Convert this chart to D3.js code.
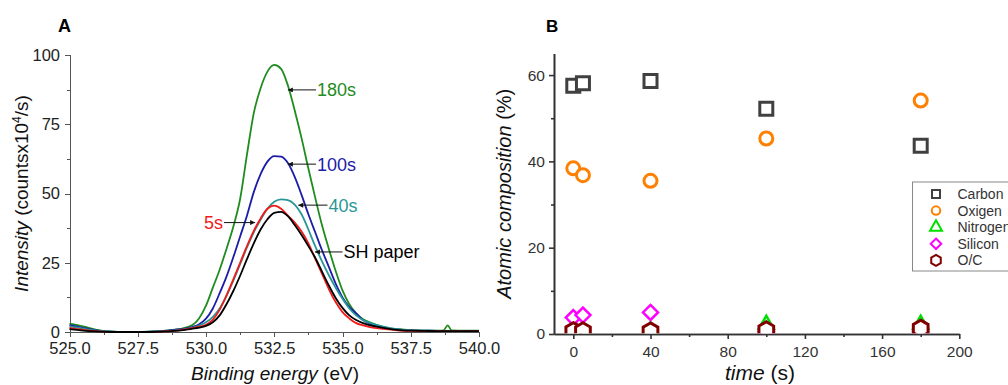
<!DOCTYPE html>
<html>
<head>
<meta charset="utf-8">
<title>O1s spectra and atomic composition</title>
<style>
  body { margin: 0; background: #fff; }
  svg { display: block; font-family: "Liberation Sans", Arial, sans-serif; }
  .axA path, .axA line { stroke: #555; stroke-width: 1; shape-rendering: crispEdges; }
  .axA text { fill: #222; font-size: 16.5px; }
  .axB path, .axB line { stroke: #333; stroke-width: 1.6; }
  .axB text { fill: #333; font-size: 15.5px; }
  .spec { fill: none; stroke-width: 1.8; stroke-linejoin: round; }
</style>
</head>
<body>
<script src="https://d3js.org/d3.v7.min.js"></script>
<script>
// ---- panel A : O1s spectra (binding energy, intensity in counts x10^4/s)
var energy = [525, 525.5, 526, 526.5, 527, 527.5, 528, 528.5, 529, 529.5, 529.75,
  530, 530.25, 530.5, 530.75, 531, 531.25, 531.5, 531.75, 532, 532.25, 532.5, 532.75,
  533, 533.25, 533.5, 533.75, 534, 534.25, 534.5, 534.75, 535, 535.25, 535.5, 535.75,
  536, 536.5, 537, 537.5, 538, 538.5, 538.7, 538.85, 539, 539.5, 540];

var s180 = [3.0, 2.0, 0.8, 0.2, 0, 0, 0.2, 0.5, 1.0, 2.5, 5,
  9.5, 16, 22.5, 30, 38, 48, 64, 79, 88, 94, 96.4, 95,
  89, 80, 70, 59, 48.5, 38.5, 30, 22, 15, 10, 6.7, 4.6,
  3.5, 1.8, 1.0, 0.7, 0.5, 0.5, 0.6, 2.4, 0.6, 0.5, 0.5];
var s100 = [2.5, 1.5, 0.6, 0.1, 0, 0, 0.1, 0.4, 0.9, 1.8, 2.8,
  4.8, 8.5, 14, 20, 27, 34.5, 42, 50.5, 57, 61.5, 63.5, 63.3,
  61, 56, 49.5, 42.5, 36, 29.5, 23.5, 17.5, 12.5, 9, 6.7, 4.3,
  3, 1.6, 0.9, 0.6, 0.5, 0.4, 0.4, 0.4, 0.4, 0.4, 0.4];
var s40 = [2.0, 1.2, 0.5, 0.1, 0, 0, 0, 0.3, 0.7, 1.5, 2.3,
  3.5, 5.5, 8.5, 13, 18.5, 24.5, 30.5, 36, 40.5, 44.5, 47, 47.9,
  47.6, 46, 42.5, 37, 31, 25.5, 20.5, 16, 12, 8.5, 6, 4.3,
  3.3, 1.9, 1.0, 0.6, 0.5, 0.4, 0.4, 0.4, 0.4, 0.4, 0.4];
var s5 = [1.5, 0.8, 0.3, 0, 0, 0, 0, 0.2, 0.6, 1.4, 1.9,
  2.6, 4.5, 8, 13.2, 19, 25, 31, 36.5, 41, 44.5, 45.6, 44.5,
  42, 39.5, 36.3, 32, 26.5, 21, 15.5, 10.8, 7.2, 4.9, 3.2, 2.4,
  1.8, 1.1, 0.6, 0.4, 0.3, 0.3, 0.3, 0.3, 0.3, 0.3, 0.3];
var sSH = [1.0, 0.5, 0.2, 0, 0, 0, 0, 0.2, 0.5, 1.2, 1.6,
  2.2, 3.5, 6, 10, 14.8, 20.3, 26.3, 32, 37, 40.7, 43, 43.4,
  41.8, 38.6, 35, 31, 26.8, 21.8, 16.8, 12.3, 8.7, 6, 4.3, 3.2,
  2.5, 1.5, 0.8, 0.5, 0.4, 0.3, 0.3, 0.3, 0.3, 0.3, 0.3];

var specNames = ["180s", "100s", "40s", "5s", "SH paper"];
var specColors = ["#1f8c1f", "#1c1ca8", "#2a9797", "#f21a1a", "#000000"];
var xTicksA = [525, 527.5, 530, 532.5, 535, 537.5, 540];
var yTicksA = [0, 25, 50, 75, 100];

// ---- panel B : atomic composition vs time
var times = [0, 5, 40, 100, 180];
var carbon = [57.5, 58.1, 58.6, 52.2, 43.6];
var oxygen = [38.4, 36.8, 35.5, 45.3, 54.1];
var nitrogen = [0.6, 0.6, 0.7, 2.2, 2.2];
var silicon = [3.8, 4.4, 5.0, 0.6, 0.6];
var oc = [0.67, 0.63, 0.61, 0.87, 1.24];
var elemNames = ["Carbon", "Oxigen", "Nitrogen", "Silicon", "O/C"];
var elemColors = ["#404040", "#ff8000", "#00e000", "#ff00ff", "#800000"];
var xTicksB = [0, 40, 80, 120, 160, 200];
var yTicksB = [0, 20, 40, 60];

var W = 1008, H = 385;
var svg = d3.select("body").append("svg").attr("width", W).attr("height", H);

// ================= panel A =================
var xA = d3.scaleLinear().domain([525, 540]).range([69.5, 479]);
var yA = d3.scaleLinear().domain([0, 100]).range([332, 55]);

svg.append("g").attr("class", "axA")
  .attr("transform", "translate(0," + yA(0) + ")")
  .call(d3.axisBottom(xA).tickValues(d3.range(526.25, 540, 2.5)).tickSize(3).tickFormat(""));
svg.append("g").attr("class", "axA")
  .attr("transform", "translate(0," + yA(0) + ")")
  .call(d3.axisBottom(xA).tickValues(xTicksA).tickSize(5).tickPadding(5).tickFormat(d3.format(".1f")));
svg.append("g").attr("class", "axA")
  .attr("transform", "translate(" + xA(525) + ",0)")
  .call(d3.axisLeft(yA).tickValues(d3.range(12.5, 100, 25)).tickSize(3).tickFormat(""));
svg.append("g").attr("class", "axA")
  .attr("transform", "translate(" + xA(525) + ",0)")
  .call(d3.axisLeft(yA).tickValues(yTicksA).tickSize(5).tickPadding(4.5));

var series = [s180, s100, s40, s5, sSH];
var line = d3.line()
  .x(function(d, i){ return xA(energy[i]); })
  .y(function(d){ return yA(d); })
  .curve(d3.curveMonotoneX);

svg.append("g").selectAll("path")
  .data(series)
  .enter().append("path")
  .attr("class", "spec")
  .attr("d", line)
  .attr("stroke", function(d, i){ return specColors[i]; });

// labels with arrows: tip on the curve (energy, intensity), tail energy
var notes = [
  {i: 0, tip: [533.0, 87.4], tail: 534.03},
  {i: 1, tip: [533.0, 60.6], tail: 534.03},
  {i: 2, tip: [533.38, 45.8], tail: 534.45},
  {i: 3, tip: [531.8, 39.5], tail: 530.66},
  {i: 4, tip: [533.99, 28.9], tail: 535.0}
];
svg.append("defs").append("marker")
  .attr("id", "arr").attr("viewBox", "0 0 10 10")
  .attr("refX", 10).attr("refY", 5)
  .attr("markerWidth", 7).attr("markerHeight", 5)
  .attr("markerUnits", "userSpaceOnUse")
  .attr("orient", "auto")
  .append("path").attr("d", "M0,0L10,5L0,10Z").attr("fill", "#111");

notes.forEach(function(n){
  var ty = yA(n.tip[1]);
  svg.append("line")
    .attr("x1", xA(n.tail)).attr("y1", ty)
    .attr("x2", xA(n.tip[0])).attr("y2", ty)
    .attr("stroke", "#111").attr("stroke-width", 1)
    .attr("marker-end", "url(#arr)");
  var left = n.tail < n.tip[0];
  svg.append("text")
    .attr("x", xA(n.tail) + (left ? -1 : 1))
    .attr("y", ty + 6.5)
    .attr("text-anchor", left ? "end" : "start")
    .style("font-size", "18px")
    .style("fill", specColors[n.i])
    .text(specNames[n.i]);
});

// titles A
var tA = svg.append("text")
  .attr("transform", "translate(28," + ((yA(0) + yA(100)) / 2) + ") rotate(-90)")
  .attr("text-anchor", "middle")
  .style("font-size", "19px").style("fill", "#111");
tA.append("tspan").style("font-style", "italic").text("Intensity");
tA.append("tspan").text(" (countsx10");
tA.append("tspan").attr("dy", -7).style("font-size", "12px").text("4");
tA.append("tspan").attr("dy", 7).text("/s)");

var bA = svg.append("text")
  .attr("x", 275).attr("y", 379.5)
  .attr("text-anchor", "middle")
  .style("font-size", "19px").style("fill", "#111");
bA.append("tspan").style("font-style", "italic").text("Binding energy");
bA.append("tspan").text(" (eV)");

svg.append("text").attr("x", 58).attr("y", 31.5)
  .style("font-size", "18px").style("font-weight", "bold").text("A");

// ================= panel B =================
var xB = d3.scaleLinear().domain([-10, 200]).range([554, 959.3]);
var yB = d3.scaleLinear().domain([0, 65]).range([334, 53.5]);

svg.append("g").attr("class", "axB")
  .attr("transform", "translate(0," + yB(0) + ")")
  .call(d3.axisBottom(xB).tickValues(d3.range(20, 200, 40)).tickSize(3).tickSizeOuter(0).tickFormat(""));
svg.append("g").attr("class", "axB")
  .attr("transform", "translate(0," + yB(0) + ")")
  .call(d3.axisBottom(xB).tickValues(xTicksB).tickSize(5).tickSizeOuter(0).tickPadding(7));
svg.append("g").attr("class", "axB")
  .attr("transform", "translate(" + xB(-10) + ",0)")
  .call(d3.axisLeft(yB).tickValues([10, 30, 50]).tickSize(3).tickSizeOuter(0).tickFormat(""));
svg.append("g").attr("class", "axB")
  .attr("transform", "translate(" + xB(-10) + ",0)")
  .call(d3.axisLeft(yB).tickValues(yTicksB).tickSize(5).tickSizeOuter(0).tickPadding(4));

svg.append("clipPath").attr("id", "clipB")
  .append("rect").attr("x", xB(-10)).attr("y", 0)
  .attr("width", W - xB(-10)).attr("height", yB(0) - 0.8);

// symbol outlines centred on 0,0; s = nominal size
function shape(k, s){
  var h = s / 2, i, a, pts = [];
  if (k === 0) return "M" + (-h) + "," + (-h) + "H" + h + "V" + h + "H" + (-h) + "Z";
  if (k === 1) return "M" + h + ",0A" + h + "," + h + " 0 1,1 " + (-h) + ",0A" + h + "," + h + " 0 1,1 " + h + ",0Z";
  if (k === 2) {
    var th = s * Math.sqrt(3) / 2;
    return "M0," + (-th * 2 / 3) + "L" + h + "," + (th / 3) + "L" + (-h) + "," + (th / 3) + "Z";
  }
  if (k === 3) return "M0," + (-h) + "L" + h + ",0L0," + h + "L" + (-h) + ",0Z";
  for (i = 0; i < 6; i++) {
    a = Math.PI / 3 * i - Math.PI / 2;
    pts.push([h * Math.cos(a), h * Math.sin(a)]);
  }
  return "M" + pts.join("L") + "Z";
}

var elems = [carbon, oxygen, nitrogen, silicon, oc];
var bigSize = [13, 13, 15, 15, 17];
var bigStroke = [3, 3, 2.5, 2.5, 3];

var gB = svg.append("g").attr("clip-path", "url(#clipB)");
elems.forEach(function(vals, k){
  gB.selectAll(null)
    .data(vals)
    .enter().append("path")
    .attr("transform", function(d, i){ return "translate(" + xB(times[i]) + "," + yB(d) + ")"; })
    .attr("d", shape(k, bigSize[k]))
    .attr("fill", "#fff")
    .attr("stroke", elemColors[k])
    .attr("stroke-width", bigStroke[k])
    .attr("stroke-linejoin", "miter");
});

// legend
var lg = svg.append("g").attr("transform", "translate(912.5,182)");
lg.append("rect").attr("width", 110).attr("height", 89)
  .attr("fill", "#fff").attr("stroke", "#888").attr("stroke-width", 1);
var smallSize = [8, 8.5, 12, 10.5, 11];
elemNames.forEach(function(name, k){
  var ry = 12 + k * 16.6;
  lg.append("path")
    .attr("transform", "translate(23.5," + ry + ")")
    .attr("d", shape(k, smallSize[k]))
    .attr("fill", "#fff")
    .attr("stroke", elemColors[k])
    .attr("stroke-width", 2);
  lg.append("text").attr("x", 45).attr("y", ry + 5)
    .style("font-size", "14px").style("fill", "#333")
    .text(name);
});

// titles B
var tB = svg.append("text")
  .attr("transform", "translate(511," + ((yB(0) + yB(65)) / 2) + ") rotate(-90)")
  .attr("text-anchor", "middle")
  .style("font-size", "20px").style("fill", "#111");
tB.append("tspan").style("font-style", "italic").text("Atomic composition");
tB.append("tspan").text(" (%)");

var bB = svg.append("text")
  .attr("x", 760).attr("y", 380)
  .attr("text-anchor", "middle")
  .style("font-size", "21px").style("fill", "#111");
bB.append("tspan").style("font-style", "italic").text("time");
bB.append("tspan").text(" (s)");

svg.append("text").attr("x", 546).attr("y", 31.5)
  .style("font-size", "17px").style("font-weight", "bold").text("B");
</script>
</body>
</html>
